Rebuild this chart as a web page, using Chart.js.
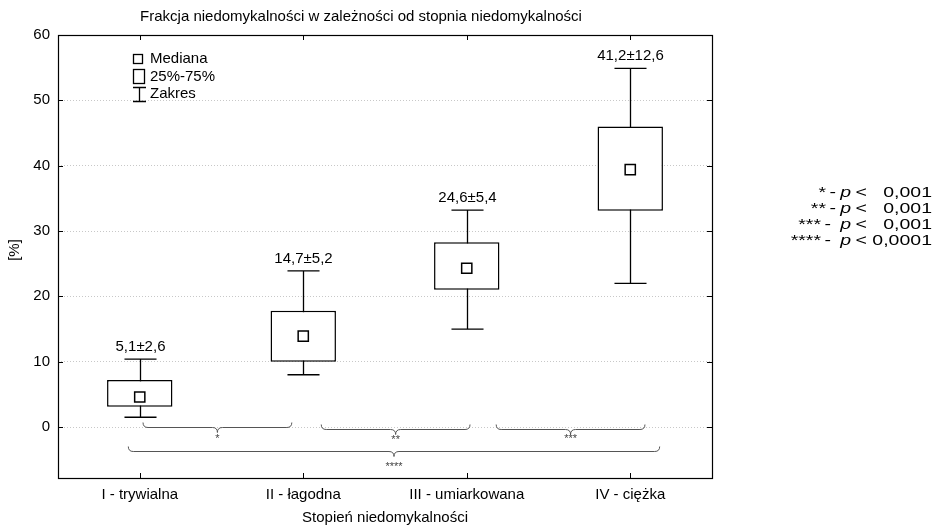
<!DOCTYPE html>
<html>
<head>
<meta charset="utf-8">
<script src="https://cdn.jsdelivr.net/npm/chart.js@4/dist/chart.umd.min.js"></script>
<style>
html,body{margin:0;padding:0;background:#fff;}
#wrap{width:935px;height:528px;}
</style>
</head>
<body>
<div id="wrap"><canvas id="c" width="935" height="528"></canvas></div>
<script>
// ---- data ----
const categories = ['I - trywialna', 'II - łagodna', 'III - umiarkowana', 'IV - ciężka'];
const minVals = [1.5, 8.0, 15.0, 22.0];
const q1Vals = [3.1, 10.0, 21.0, 33.1];
const medianVals = [4.6, 13.9, 24.3, 39.4];
const q3Vals = [7.2, 17.8, 28.3, 46.0];
const maxVals = [10.4, 23.9, 33.2, 54.9];
const meanSdLabels = ['5,1±2,6', '14,7±5,2', '24,6±5,4', '41,2±12,6'];
const yTickValues = [0, 10, 20, 30, 40, 50, 60];
const comparisonLabels = ['*', '**', '***', '****'];
const significanceStars = ['*', '**', '***', '****'];
const significanceP = ['0,001', '0,001', '0,001', '0,0001'];
const legendLabels = ['Mediana', '25%-75%', 'Zakres'];

// ---- layout of brace annotations (category units / value units) ----
const braceLayout = [
  {x0: 0.02, x1: 0.93, y: 0.0, ly: -1.85},
  {x0: 1.11, x1: 2.02, y: -0.3, ly: -2.0},
  {x0: 2.18, x1: 3.09, y: -0.3, ly: -1.85},
  {x0: -0.07, x1: 3.18, y: -3.63, ly: -6.1}
];

const FONT = "'Liberation Sans', Arial, sans-serif";

const boxData = q1Vals.map((q, i) => [q, q3Vals[i]]);

function drawScaled(ctx, text, xRight, y, font, sx) {
  ctx.save();
  ctx.font = font;
  ctx.translate(xRight, y);
  ctx.scale(sx, 1);
  ctx.textAlign = 'right';
  ctx.fillText(text, 0, 0);
  ctx.restore();
}

const whiskerPlugin = {
  id: 'whiskers',
  beforeDatasetsDraw(chart) {
    const ctx = chart.ctx, x = chart.scales.x, y = chart.scales.y;
    const meta = chart.getDatasetMeta(1);
    ctx.save();
    ctx.strokeStyle = '#000';
    ctx.lineWidth = 1.3;
    categories.forEach((c, i) => {
      const cx = Math.round(x.getPixelForValue(i)) + 0.5;
      const bw = meta.data[i] ? meta.data[i].width : 60;
      const hw = bw * 0.245;
      const yMin = y.getPixelForValue(minVals[i]);
      const yMax = y.getPixelForValue(maxVals[i]);
      ctx.beginPath();
      ctx.moveTo(cx, yMin); ctx.lineTo(cx, yMax);
      ctx.moveTo(cx - hw, yMin); ctx.lineTo(cx + hw, yMin);
      ctx.moveTo(cx - hw, yMax); ctx.lineTo(cx + hw, yMax);
      ctx.stroke();
      ctx.fillStyle = '#000';
      ctx.font = '15px ' + FONT;
      ctx.textAlign = 'center';
      ctx.textBaseline = 'alphabetic';
      ctx.fillText(meanSdLabels[i], cx, yMax - 8);
    });
    ctx.restore();
  },
  afterDraw(chart) {
    const ctx = chart.ctx, x = chart.scales.x, y = chart.scales.y;
    const a = chart.chartArea;
    ctx.save();
    // frame
    ctx.strokeStyle = '#000';
    ctx.lineWidth = 1.2;
    ctx.strokeRect(Math.round(a.left) + 0.5, Math.round(a.top) + 0.5, Math.round(a.right - a.left), Math.round(a.bottom - a.top));
    // inward ticks
    ctx.lineWidth = 1;
    ctx.beginPath();
    yTickValues.forEach(v => {
      const py = Math.round(y.getPixelForValue(v)) + 0.5;
      ctx.moveTo(a.left, py); ctx.lineTo(a.left + 5, py);
      ctx.moveTo(a.right, py); ctx.lineTo(a.right - 5, py);
    });
    categories.forEach((c, i) => {
      const px = Math.round(x.getPixelForValue(i)) + 0.5;
      ctx.moveTo(px, a.top); ctx.lineTo(px, a.top + 5);
      ctx.moveTo(px, a.bottom); ctx.lineTo(px, a.bottom - 5);
    });
    ctx.stroke();

    // braces
    ctx.strokeStyle = '#555';
    ctx.lineWidth = 1;
    const h = 5;
    braceLayout.forEach((b, i) => {
      const x0 = x.getPixelForValue(b.x0), x1 = x.getPixelForValue(b.x1);
      const yy = Math.round(y.getPixelForValue(b.y)) + 0.5;
      const xm = (x0 + x1) / 2;
      ctx.beginPath();
      ctx.moveTo(x0, yy - h);
      ctx.quadraticCurveTo(x0, yy, x0 + h, yy);
      ctx.lineTo(xm - h, yy);
      ctx.quadraticCurveTo(xm, yy, xm, yy + h);
      ctx.quadraticCurveTo(xm, yy, xm + h, yy);
      ctx.lineTo(x1 - h, yy);
      ctx.quadraticCurveTo(x1, yy, x1, yy - h);
      ctx.stroke();
      ctx.fillStyle = '#444';
      ctx.font = '11px ' + FONT;
      ctx.textAlign = 'center';
      ctx.textBaseline = 'middle';
      ctx.fillText(comparisonLabels[i], xm, y.getPixelForValue(b.ly));
    });

    // titles
    ctx.fillStyle = '#000';
    ctx.font = '15px ' + FONT;
    ctx.textAlign = 'center';
    ctx.textBaseline = 'middle';
    ctx.fillText('Frakcja niedomykalności w zależności od stopnia niedomykalności', 361, 17);
    ctx.fillText('Stopień niedomykalności', (a.left + a.right) / 2, 518);
    ctx.save();
    ctx.translate(15, 250);
    ctx.rotate(-Math.PI / 2);
    ctx.fillText('[%]', 0, 0);
    ctx.restore();

    // legend (top-left)
    ctx.strokeStyle = '#000';
    ctx.lineWidth = 1.3;
    ctx.strokeRect(133.5, 54.5, 9, 9);
    ctx.strokeRect(133.5, 69.5, 11, 14);
    ctx.beginPath();
    ctx.moveTo(139.5, 87); ctx.lineTo(139.5, 102);
    ctx.moveTo(133, 87.5); ctx.lineTo(146, 87.5);
    ctx.moveTo(133, 101.5); ctx.lineTo(146, 101.5);
    ctx.stroke();
    ctx.textAlign = 'left';
    ctx.fillText(legendLabels[0], 150, 59);
    ctx.fillText(legendLabels[1], 150, 77);
    ctx.fillText(legendLabels[2], 150, 94);

    // significance legend (right)
    const sx = 1.3;
    const f = '15px ' + FONT, fi = 'italic 15px ' + FONT;
    ctx.textBaseline = 'alphabetic';
    significanceStars.forEach((s, i) => {
      const base = 197 + i * 16;
      drawScaled(ctx, significanceP[i], 932, base, f, sx);
      drawScaled(ctx, '<', 867, base, f, sx);
      drawScaled(ctx, 'p', 851, base, fi, sx);
      const dashRight = (i < 2) ? 836 : 831;
      drawScaled(ctx, '-', dashRight, base, f, sx);
      drawScaled(ctx, s, dashRight - 10, base, f, sx);
    });
    ctx.restore();
  }
};

new Chart(document.getElementById('c'), {
  type: 'bar',
  data: {
    labels: categories,
    datasets: [
      {
        type: 'line',
        label: 'Mediana',
        data: medianVals,
        showLine: false,
        pointStyle: 'rect',
        pointRadius: 7.2,
        pointHoverRadius: 7.2,
        pointBackgroundColor: '#fff',
        pointBorderColor: '#000',
        pointBorderWidth: 1.5,
        order: 0
      },
      {
        type: 'bar',
        label: '25%-75%',
        data: boxData,
        backgroundColor: '#fff',
        borderColor: '#000',
        borderWidth: 1.5,
        borderSkipped: false,
        barPercentage: 0.4,
        categoryPercentage: 1,
        order: 1
      }
    ]
  },
  options: {
    responsive: false,
    animation: false,
    devicePixelRatio: 1,
    layout: {padding: {top: 35, right: 223, bottom: 0, left: 0}},
    plugins: {legend: {display: false}, tooltip: {enabled: false}, title: {display: false}},
    scales: {
      x: {
        type: 'category',
        offset: true,
        grid: {display: false, drawTicks: false},
        border: {display: false},
        ticks: {color: '#000', font: {family: FONT, size: 15}, padding: 8, maxRotation: 0, autoSkip: false},
        afterFit(s) { s.height = 50; }
      },
      y: {
        min: -7.8,
        max: 60,
        grid: {color: '#c8c8c8', lineWidth: 1, drawTicks: false},
        border: {display: false, dash: [1, 2]},
        ticks: {color: '#000', font: {family: FONT, size: 15}, padding: 8, stepSize: 10},
        afterBuildTicks(s) { s.ticks = yTickValues.map(v => ({value: v})); },
        afterFit(s) { s.width = 58; }
      }
    }
  },
  plugins: [whiskerPlugin]
});
</script>
</body>
</html>
